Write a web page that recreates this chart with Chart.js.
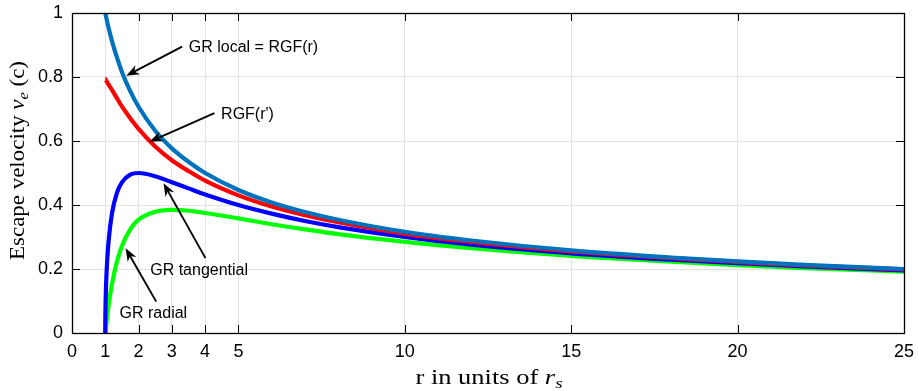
<!DOCTYPE html>
<html><head><meta charset="utf-8">
<script src="https://cdn.jsdelivr.net/npm/chart.js@4/dist/chart.umd.min.js"></script>
<style>html,body{margin:0;padding:0;background:#fff}canvas{display:block}</style>
</head><body>
<canvas id="c" width="919" height="391" style="width:919px;height:391px"></canvas>
<script>
// r in units of r_s
const r = [1, 1.001, 1.005, 1.01, 1.02, 1.05, 1.1, 1.2, 1.35, 1.5, 1.75, 2, 2.5, 3, 3.5, 4, 5, 6, 7, 8, 10, 12, 15, 18, 20, 22, 25];
// escape velocity (c)
const grLocal = [1.000, 0.9995, 0.9975, 0.995, 0.990, 0.976, 0.953, 0.913, 0.861, 0.816, 0.756, 0.707, 0.632, 0.577, 0.535, 0.500, 0.447, 0.408, 0.378, 0.354, 0.316, 0.289, 0.258, 0.236, 0.224, 0.213, 0.200];
const rgfPrime = [0.794, 0.794, 0.793, 0.792, 0.790, 0.785, 0.776, 0.760, 0.734, 0.708, 0.671, 0.638, 0.583, 0.540, 0.506, 0.476, 0.430, 0.395, 0.368, 0.346, 0.310, 0.285, 0.255, 0.234, 0.222, 0.211, 0.199];
const grTangential = [0, 0.032, 0.070, 0.099, 0.139, 0.213, 0.287, 0.373, 0.438, 0.471, 0.495, 0.500, 0.490, 0.471, 0.452, 0.433, 0.400, 0.373, 0.350, 0.331, 0.300, 0.276, 0.249, 0.229, 0.218, 0.208, 0.196];
const grRadial = [0, 0.001, 0.005, 0.010, 0.019, 0.047, 0.087, 0.152, 0.223, 0.272, 0.324, 0.354, 0.379, 0.385, 0.382, 0.375, 0.358, 0.340, 0.324, 0.309, 0.285, 0.265, 0.241, 0.223, 0.212, 0.203, 0.192];
const xTicks = [0, 1, 2, 3, 4, 5, 10, 15, 20, 25];
const yTicks = [0, 0.2, 0.4, 0.6, 0.8, 1];
const seriesNames = ['GR local = RGF(r)', "RGF(r')", 'GR tangential', 'GR radial'];

// annotations: text anchor (left, middle) and arrow tail/tip in data units
const notes = [
  {text: seriesNames[0], tx: 3.51, ty: 0.892, ax: 3.31, ay: 0.895, bx: 1.63, by: 0.804},
  {text: seriesNames[1], tx: 4.48, ty: 0.682, ax: 4.28, ay: 0.687, bx: 2.33, by: 0.598},
  {text: seriesNames[2], tx: 2.35, ty: 0.196, ax: 4.01, ay: 0.234, bx: 2.75, by: 0.468},
  {text: seriesNames[3], tx: 1.43, ty: 0.062, ax: 2.53, ay: 0.098, bx: 1.61, by: 0.265}
];

const pts = arr => r.map((x, i) => ({x: x, y: arr[i]}));
const mk = (label, arr, color) => ({
  label, data: pts(arr), borderColor: color, borderWidth: 4.2, pointRadius: 0,
  cubicInterpolationMode: 'monotone', fill: false, clip: 0, borderCapStyle: 'butt', borderJoinStyle: 'round'
});

const frame = {
  id: 'frame',
  beforeDatasetsDraw(chart) {
    const {ctx, chartArea: a, scales: {x, y}} = chart;
    ctx.save();
    ctx.strokeStyle = '#000'; ctx.lineWidth = 1;
    ctx.beginPath();
    const L = 8;
    xTicks.forEach(v => { const px = Math.round(x.getPixelForValue(v)) + 0.5;
      ctx.moveTo(px, a.bottom); ctx.lineTo(px, a.bottom - L);
      ctx.moveTo(px, a.top); ctx.lineTo(px, a.top + L); });
    yTicks.forEach(v => { const py = Math.round(y.getPixelForValue(v)) + 0.5;
      ctx.moveTo(a.left, py); ctx.lineTo(a.left + L, py);
      ctx.moveTo(a.right, py); ctx.lineTo(a.right - L, py); });
    ctx.stroke();
    ctx.restore();
  },
  afterDatasetsDraw(chart) {
    const {ctx, chartArea: a, scales: {x, y}} = chart;
    ctx.save();
    ctx.strokeStyle = '#000'; ctx.lineWidth = 1.3;
    ctx.strokeRect(Math.round(a.left) + 0.5, Math.round(a.top) + 0.5, Math.round(a.right - a.left), Math.round(a.bottom - a.top));
    // annotations
    ctx.fillStyle = '#000';
    ctx.font = '16px "Liberation Sans", Arial, sans-serif';
    ctx.textBaseline = 'middle'; ctx.textAlign = 'left';
    notes.forEach(n => {
      ctx.fillText(n.text, x.getPixelForValue(n.tx), y.getPixelForValue(n.ty));
      const x0 = x.getPixelForValue(n.ax), y0 = y.getPixelForValue(n.ay);
      const x1 = x.getPixelForValue(n.bx), y1 = y.getPixelForValue(n.by);
      const ang = Math.atan2(y1 - y0, x1 - x0);
      const hl = 13, hw = 5, nb = 9;
      const bx = x1 - hl * Math.cos(ang), by = y1 - hl * Math.sin(ang);
      ctx.lineWidth = 1.9;
      ctx.beginPath(); ctx.moveTo(x0, y0);
      ctx.lineTo(x1 - nb * Math.cos(ang), y1 - nb * Math.sin(ang)); ctx.stroke();
      const px = -Math.sin(ang), py = Math.cos(ang);
      ctx.beginPath();
      ctx.moveTo(x1, y1);
      ctx.lineTo(bx + hw * px, by + hw * py);
      ctx.lineTo(x1 - nb * Math.cos(ang), y1 - nb * Math.sin(ang));
      ctx.lineTo(bx - hw * px, by - hw * py);
      ctx.closePath(); ctx.fill();
    });
    ctx.restore();
  },
  afterDraw(chart) {
    const {ctx} = chart;
    const drawMath = (segs, cx, base, target) => {
      // segs: [text, italic, sub]
      const size = 21;
      const fontOf = s => (s[1] ? 'italic ' : '') + (s[2] ? Math.round(size * 0.7) : size) + 'px "Liberation Serif", "Times New Roman", serif';
      let w = 0;
      segs.forEach(s => { ctx.font = fontOf(s); w += ctx.measureText(s[0]).width; });
      const k = target / w;
      ctx.save();
      ctx.translate(cx, base);
      ctx.scale(k, 1);
      let xx = -w / 2;
      ctx.textBaseline = 'alphabetic'; ctx.textAlign = 'left'; ctx.fillStyle = '#000';
      segs.forEach(s => { ctx.font = fontOf(s); ctx.fillText(s[0], xx, s[2] ? 4 : 0); xx += ctx.measureText(s[0]).width; });
      ctx.restore();
    };
    // x title
    drawMath([['r in units of ', 0, 0], ['r', 1, 0], ['s', 1, 1]], 489, 384, 147);
    // y title
    ctx.save();
    ctx.translate(23.5, 160.5);
    ctx.rotate(-Math.PI / 2);
    drawMath([['Escape velocity ', 0, 0], ['v', 1, 0], ['e', 1, 1], [' (c)', 0, 0]], 0, 0, 199);
    ctx.restore();
  }
};

new Chart(document.getElementById('c'), {
  type: 'line',
  data: {datasets: [
    mk(seriesNames[0], grLocal, '#0072BD'),
    mk(seriesNames[1], rgfPrime, '#FF0000'),
    mk(seriesNames[2], grTangential, '#0000FF'),
    mk(seriesNames[3], grRadial, '#00FF00')
  ]},
  options: {
    responsive: false, animation: false, devicePixelRatio: 1,
    layout: {padding: {left: 0, top: 13, right: 15, bottom: 0}},
    plugins: {legend: {display: false}, tooltip: {enabled: false}},
    elements: {line: {tension: 0}},
    scales: {
      x: {
        type: 'linear', min: 0, max: 25,
        afterBuildTicks: s => { s.ticks = xTicks.map(v => ({value: v})); },
        afterFit: s => { s.height = 58; s.paddingLeft = 0; s.paddingRight = 0; },
        grid: {color: '#e3e3e3', lineWidth: 1, drawTicks: false},
        border: {display: false},
        ticks: {color: '#000', font: {family: '"Liberation Sans", Arial, sans-serif', size: 18}, padding: 8, maxRotation: 0, autoSkip: false}
      },
      y: {
        type: 'linear', min: 0, max: 1,
        afterBuildTicks: s => { s.ticks = yTicks.map(v => ({value: v})); },
        afterFit: s => { s.width = 72; s.paddingTop = 0; s.paddingBottom = 0; },
        grid: {color: '#e3e3e3', lineWidth: 1, drawTicks: false},
        border: {display: false},
        ticks: {color: '#000', font: {family: '"Liberation Sans", Arial, sans-serif', size: 18}, padding: 9,
          callback: v => String(Math.round(v * 10) / 10)}
      }
    }
  },
  plugins: [frame]
});
</script>
</body></html>
